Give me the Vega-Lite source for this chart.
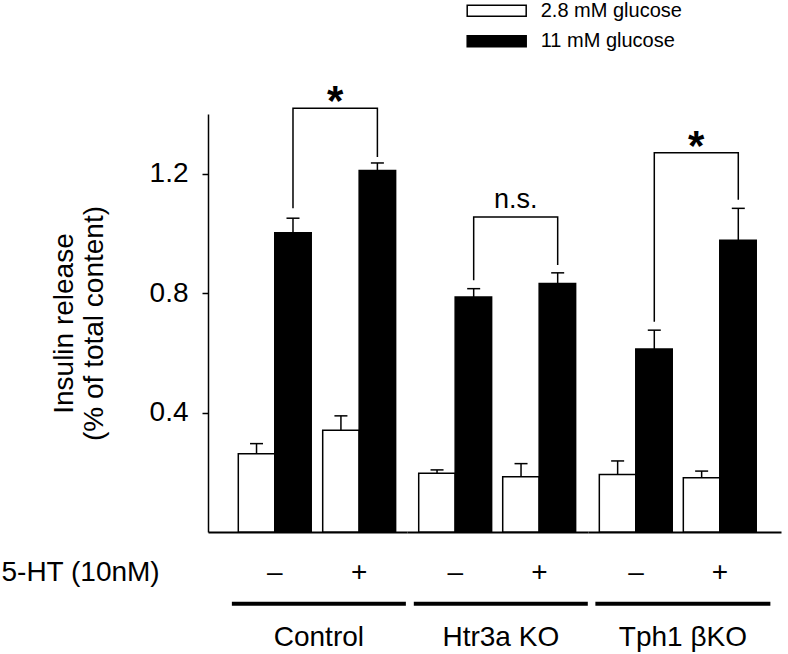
{
"$schema": "https://vega.github.io/schema/vega-lite/v6.json",
"padding": {"left": 1, "top": 0, "right": 5, "bottom": 2},
"bounds": "flush",
"spacing": 0,
"config": {"font": "Liberation Sans", "view": {"stroke": null}, "axis": {"labelColor": "black", "titleColor": "black", "labelFont": "Liberation Sans", "titleFont": "Liberation Sans", "grid": false}, "text": {"font": "Liberation Sans", "color": "black"}, "legend": {"labelFont": "Liberation Sans", "labelColor": "black"}},
"datasets": {
"bars": [
{"grp": "Control", "cond": "–", "glucose": "2.8 mM glucose", "value": 0.262, "upper": 0.296},
{"grp": "Control", "cond": "–", "glucose": "11 mM glucose", "value": 1.002, "upper": 1.051},
{"grp": "Control", "cond": "+", "glucose": "2.8 mM glucose", "value": 0.341, "upper": 0.389},
{"grp": "Control", "cond": "+", "glucose": "11 mM glucose", "value": 1.211, "upper": 1.236},
{"grp": "Htr3a KO", "cond": "–", "glucose": "2.8 mM glucose", "value": 0.197, "upper": 0.208},
{"grp": "Htr3a KO", "cond": "–", "glucose": "11 mM glucose", "value": 0.787, "upper": 0.815},
{"grp": "Htr3a KO", "cond": "+", "glucose": "2.8 mM glucose", "value": 0.185, "upper": 0.229},
{"grp": "Htr3a KO", "cond": "+", "glucose": "11 mM glucose", "value": 0.832, "upper": 0.868},
{"grp": "Tph1 βKO", "cond": "–", "glucose": "2.8 mM glucose", "value": 0.193, "upper": 0.238},
{"grp": "Tph1 βKO", "cond": "–", "glucose": "11 mM glucose", "value": 0.613, "upper": 0.676},
{"grp": "Tph1 βKO", "cond": "+", "glucose": "2.8 mM glucose", "value": 0.182, "upper": 0.204},
{"grp": "Tph1 βKO", "cond": "+", "glucose": "11 mM glucose", "value": 0.977, "upper": 1.084}
],
"brackets": [
{"grp": "Control", "cond": "–", "y": 1.084, "o": 1},
{"grp": "Control", "cond": "–", "y": 1.419, "o": 2},
{"grp": "Control", "cond": "+", "y": 1.419, "o": 3},
{"grp": "Control", "cond": "+", "y": 1.256, "o": 4},
{"grp": "Htr3a KO", "cond": "–", "y": 0.843, "o": 1},
{"grp": "Htr3a KO", "cond": "–", "y": 1.055, "o": 2},
{"grp": "Htr3a KO", "cond": "+", "y": 1.055, "o": 3},
{"grp": "Htr3a KO", "cond": "+", "y": 0.894, "o": 4},
{"grp": "Tph1 βKO", "cond": "–", "y": 0.704, "o": 1},
{"grp": "Tph1 βKO", "cond": "–", "y": 1.270, "o": 2},
{"grp": "Tph1 βKO", "cond": "+", "y": 1.270, "o": 3},
{"grp": "Tph1 βKO", "cond": "+", "y": 1.113, "o": 4}
],
"notes": [
{"grp": "Control", "cond": "–", "label": "*", "y": 1.395},
{"grp": "Htr3a KO", "cond": "–", "label": "n.s.", "y": 1.084},
{"grp": "Tph1 βKO", "cond": "–", "label": "*", "y": 1.247}
],
"groups": [
{"grp": "Control", "cond": "–", "label": "Control"},
{"grp": "Htr3a KO", "cond": "–", "label": "Htr3a KO"},
{"grp": "Tph1 βKO", "cond": "–", "label": "Tph1 βKO"}
]
},
"hconcat": [
{
"width": 199, "height": 418,
"layer": [
{"data": {"name": "bars"}, "transform": [{"filter": "datum.grp === 'Control'"}],
 "mark": {"type": "bar", "stroke": "black", "strokeWidth": 1.5},
 "encoding": {
  "x": {"field": "cond", "type": "nominal", "scale": {"domain": ["–", "+"], "paddingInner": 0.136, "paddingOuter": 0.2469, "align": 0.727},
        "axis": {"title": "5-HT (10nM)", "titleX": -207, "titleY": 40.7, "titleAlign": "left", "titleBaseline": "middle", "titleFontSize": 28, "titleFontWeight": "normal", "ticks": false, "labelFontSize": 28, "labelPadding": 26, "labelAngle": 0, "domainColor": "black", "domainWidth": 2}},
  "xOffset": {"field": "glucose", "type": "nominal", "scale": {"domain": ["2.8 mM glucose", "11 mM glucose"], "paddingInner": 0, "paddingOuter": 0}},
  "y": {"field": "value", "type": "quantitative", "scale": {"domain": [0, 1.4], "nice": false},
        "axis": {"values": [0.4, 0.8, 1.2], "format": ".1f", "tickSize": 6, "tickWidth": 1.5, "tickColor": "black", "domainColor": "black", "domainWidth": 1.5, "labelFontSize": 28, "labelPadding": 14, "title": ["Insulin release", "(% of total content)"], "titleFontSize": 28, "titleFontWeight": "normal", "titlePadding": 41, "titleLineHeight": 30}},
  "color": {"field": "glucose", "type": "nominal", "scale": {"domain": ["2.8 mM glucose", "11 mM glucose"], "range": ["white", "black"]},
        "legend": {"orient": "none", "legendX": 278.7, "legendY": -113.3, "title": null, "direction": "vertical", "symbolType": "M-3.47,-0.647H3.47V0.647H-3.47Z", "symbolSize": 289, "symbolStrokeColor": "black", "symbolStrokeWidth": 1.5, "labelFontSize": 20, "labelOffset": 34, "rowPadding": 10.5, "padding": 0}}
 }},
{"data": {"name": "bars"}, "transform": [{"filter": "datum.grp === 'Control' && datum.glucose === '2.8 mM glucose'"}],
 "mark": {"type": "rule", "color": "black", "strokeWidth": 1.5},
 "encoding": {"x": {"field": "cond", "type": "nominal", "bandPosition": 0.25}, "y": {"field": "value", "type": "quantitative"}, "y2": {"field": "upper"}}},
{"data": {"name": "bars"}, "transform": [{"filter": "datum.grp === 'Control' && datum.glucose === '2.8 mM glucose'"}],
 "mark": {"type": "point", "shape": "M-1,0H1", "size": 169, "strokeWidth": 1.5, "color": "black", "filled": false, "opacity": 1},
 "encoding": {"x": {"field": "cond", "type": "nominal", "bandPosition": 0.25}, "y": {"field": "upper", "type": "quantitative"}}},
{"data": {"name": "bars"}, "transform": [{"filter": "datum.grp === 'Control' && datum.glucose === '11 mM glucose'"}],
 "mark": {"type": "rule", "color": "black", "strokeWidth": 1.5},
 "encoding": {"x": {"field": "cond", "type": "nominal", "bandPosition": 0.75}, "y": {"field": "value", "type": "quantitative"}, "y2": {"field": "upper"}}},
{"data": {"name": "bars"}, "transform": [{"filter": "datum.grp === 'Control' && datum.glucose === '11 mM glucose'"}],
 "mark": {"type": "point", "shape": "M-1,0H1", "size": 169, "strokeWidth": 1.5, "color": "black", "filled": false, "opacity": 1},
 "encoding": {"x": {"field": "cond", "type": "nominal", "bandPosition": 0.75}, "y": {"field": "upper", "type": "quantitative"}}},
{"data": {"name": "brackets"}, "transform": [{"filter": "datum.grp === 'Control'"}],
 "mark": {"type": "line", "color": "black", "strokeWidth": 1.5},
 "encoding": {"x": {"field": "cond", "type": "nominal", "bandPosition": 0.75}, "y": {"field": "y", "type": "quantitative"}, "order": {"field": "o"}}},
{"data": {"name": "notes"}, "transform": [{"filter": "datum.grp === 'Control'"}],
 "mark": {"type": "text", "fontSize": 42, "fontWeight": "bold", "align": "center", "baseline": "alphabetic"},
 "encoding": {"x": {"field": "cond", "type": "nominal", "bandPosition": 1.329}, "y": {"field": "y", "type": "quantitative"}, "text": {"field": "label"}}},
{"data": {"name": "groups"}, "transform": [{"filter": "datum.grp === 'Control'"}],
 "mark": {"type": "point", "shape": "M-1,0H1", "size": 30276, "strokeWidth": 4, "color": "black", "filled": false, "opacity": 1},
 "encoding": {"x": {"field": "cond", "type": "nominal", "bandPosition": 1.105}, "y": {"datum": -0.24, "type": "quantitative"}}},
{"data": {"name": "groups"}, "transform": [{"filter": "datum.grp === 'Control'"}],
 "mark": {"type": "text", "fontSize": 28, "align": "center", "baseline": "middle"},
 "encoding": {"x": {"field": "cond", "type": "nominal", "bandPosition": 1.105}, "y": {"datum": -0.355, "type": "quantitative"}, "text": {"field": "label"}}}
]
},
{
"width": 181, "height": 418,
"layer": [
{"data": {"name": "bars"}, "transform": [{"filter": "datum.grp === 'Htr3a KO'"}],
 "mark": {"type": "bar", "stroke": "black", "strokeWidth": 1.5},
 "encoding": {
  "x": {"field": "cond", "type": "nominal", "scale": {"domain": ["–", "+"], "paddingInner": 0.1274, "paddingOuter": 0.1411, "align": 0.494},
        "axis": {"title": null, "ticks": false, "labelFontSize": 28, "labelPadding": 26, "labelAngle": 0, "domainColor": "black", "domainWidth": 2}},
  "xOffset": {"field": "glucose", "type": "nominal", "scale": {"domain": ["2.8 mM glucose", "11 mM glucose"], "paddingInner": 0, "paddingOuter": 0}},
  "y": {"field": "value", "type": "quantitative", "scale": {"domain": [0, 1.4], "nice": false}, "axis": null},
  "color": {"field": "glucose", "type": "nominal", "scale": {"domain": ["2.8 mM glucose", "11 mM glucose"], "range": ["white", "black"]}, "legend": null}
 }},
{"data": {"name": "bars"}, "transform": [{"filter": "datum.grp === 'Htr3a KO' && datum.glucose === '2.8 mM glucose'"}],
 "mark": {"type": "rule", "color": "black", "strokeWidth": 1.5},
 "encoding": {"x": {"field": "cond", "type": "nominal", "bandPosition": 0.25}, "y": {"field": "value", "type": "quantitative", "axis": null}, "y2": {"field": "upper"}}},
{"data": {"name": "bars"}, "transform": [{"filter": "datum.grp === 'Htr3a KO' && datum.glucose === '2.8 mM glucose'"}],
 "mark": {"type": "point", "shape": "M-1,0H1", "size": 169, "strokeWidth": 1.5, "color": "black", "filled": false, "opacity": 1},
 "encoding": {"x": {"field": "cond", "type": "nominal", "bandPosition": 0.25}, "y": {"field": "upper", "type": "quantitative", "axis": null}}},
{"data": {"name": "bars"}, "transform": [{"filter": "datum.grp === 'Htr3a KO' && datum.glucose === '11 mM glucose'"}],
 "mark": {"type": "rule", "color": "black", "strokeWidth": 1.5},
 "encoding": {"x": {"field": "cond", "type": "nominal", "bandPosition": 0.75}, "y": {"field": "value", "type": "quantitative", "axis": null}, "y2": {"field": "upper"}}},
{"data": {"name": "bars"}, "transform": [{"filter": "datum.grp === 'Htr3a KO' && datum.glucose === '11 mM glucose'"}],
 "mark": {"type": "point", "shape": "M-1,0H1", "size": 169, "strokeWidth": 1.5, "color": "black", "filled": false, "opacity": 1},
 "encoding": {"x": {"field": "cond", "type": "nominal", "bandPosition": 0.75}, "y": {"field": "upper", "type": "quantitative", "axis": null}}},
{"data": {"name": "brackets"}, "transform": [{"filter": "datum.grp === 'Htr3a KO'"}],
 "mark": {"type": "line", "color": "black", "strokeWidth": 1.5},
 "encoding": {"x": {"field": "cond", "type": "nominal", "bandPosition": 0.75}, "y": {"field": "y", "type": "quantitative", "axis": null}, "order": {"field": "o"}}},
{"data": {"name": "notes"}, "transform": [{"filter": "datum.grp === 'Htr3a KO'"}],
 "mark": {"type": "text", "fontSize": 27, "align": "center", "baseline": "alphabetic"},
 "encoding": {"x": {"field": "cond", "type": "nominal", "bandPosition": 1.323}, "y": {"field": "y", "type": "quantitative", "axis": null}, "text": {"field": "label"}}},
{"data": {"name": "groups"}, "transform": [{"filter": "datum.grp === 'Htr3a KO'"}],
 "mark": {"type": "point", "shape": "M-1,0H1", "size": 30276, "strokeWidth": 4, "color": "black", "filled": false, "opacity": 1},
 "encoding": {"x": {"field": "cond", "type": "nominal", "bandPosition": 1.12}, "y": {"datum": -0.24, "type": "quantitative", "axis": null}}},
{"data": {"name": "groups"}, "transform": [{"filter": "datum.grp === 'Htr3a KO'"}],
 "mark": {"type": "text", "fontSize": 28, "align": "center", "baseline": "middle"},
 "encoding": {"x": {"field": "cond", "type": "nominal", "bandPosition": 1.12}, "y": {"datum": -0.355, "type": "quantitative", "axis": null}, "text": {"field": "label"}}}
]
},
{
"width": 193, "height": 418,
"layer": [
{"data": {"name": "bars"}, "transform": [{"filter": "datum.grp === 'Tph1 βKO'"}],
 "mark": {"type": "bar", "stroke": "black", "strokeWidth": 1.5},
 "encoding": {
  "x": {"field": "cond", "type": "nominal", "scale": {"domain": ["–", "+"], "paddingInner": 0.1274, "paddingOuter": 0.2125, "align": 0.317},
        "axis": {"title": null, "ticks": false, "labelFontSize": 28, "labelPadding": 26, "labelAngle": 0, "domainColor": "black", "domainWidth": 2}},
  "xOffset": {"field": "glucose", "type": "nominal", "scale": {"domain": ["2.8 mM glucose", "11 mM glucose"], "paddingInner": 0, "paddingOuter": 0}},
  "y": {"field": "value", "type": "quantitative", "scale": {"domain": [0, 1.4], "nice": false}, "axis": null},
  "color": {"field": "glucose", "type": "nominal", "scale": {"domain": ["2.8 mM glucose", "11 mM glucose"], "range": ["white", "black"]}, "legend": null}
 }},
{"data": {"name": "bars"}, "transform": [{"filter": "datum.grp === 'Tph1 βKO' && datum.glucose === '2.8 mM glucose'"}],
 "mark": {"type": "rule", "color": "black", "strokeWidth": 1.5},
 "encoding": {"x": {"field": "cond", "type": "nominal", "bandPosition": 0.25}, "y": {"field": "value", "type": "quantitative", "axis": null}, "y2": {"field": "upper"}}},
{"data": {"name": "bars"}, "transform": [{"filter": "datum.grp === 'Tph1 βKO' && datum.glucose === '2.8 mM glucose'"}],
 "mark": {"type": "point", "shape": "M-1,0H1", "size": 169, "strokeWidth": 1.5, "color": "black", "filled": false, "opacity": 1},
 "encoding": {"x": {"field": "cond", "type": "nominal", "bandPosition": 0.25}, "y": {"field": "upper", "type": "quantitative", "axis": null}}},
{"data": {"name": "bars"}, "transform": [{"filter": "datum.grp === 'Tph1 βKO' && datum.glucose === '11 mM glucose'"}],
 "mark": {"type": "rule", "color": "black", "strokeWidth": 1.5},
 "encoding": {"x": {"field": "cond", "type": "nominal", "bandPosition": 0.75}, "y": {"field": "value", "type": "quantitative", "axis": null}, "y2": {"field": "upper"}}},
{"data": {"name": "bars"}, "transform": [{"filter": "datum.grp === 'Tph1 βKO' && datum.glucose === '11 mM glucose'"}],
 "mark": {"type": "point", "shape": "M-1,0H1", "size": 169, "strokeWidth": 1.5, "color": "black", "filled": false, "opacity": 1},
 "encoding": {"x": {"field": "cond", "type": "nominal", "bandPosition": 0.75}, "y": {"field": "upper", "type": "quantitative", "axis": null}}},
{"data": {"name": "brackets"}, "transform": [{"filter": "datum.grp === 'Tph1 βKO'"}],
 "mark": {"type": "line", "color": "black", "strokeWidth": 1.5},
 "encoding": {"x": {"field": "cond", "type": "nominal", "bandPosition": 0.75}, "y": {"field": "y", "type": "quantitative", "axis": null}, "order": {"field": "o"}}},
{"data": {"name": "notes"}, "transform": [{"filter": "datum.grp === 'Tph1 βKO'"}],
 "mark": {"type": "text", "fontSize": 42, "fontWeight": "bold", "align": "center", "baseline": "alphabetic"},
 "encoding": {"x": {"field": "cond", "type": "nominal", "bandPosition": 1.323}, "y": {"field": "y", "type": "quantitative", "axis": null}, "text": {"field": "label"}}},
{"data": {"name": "groups"}, "transform": [{"filter": "datum.grp === 'Tph1 βKO'"}],
 "mark": {"type": "point", "shape": "M-1,0H1", "size": 30625, "strokeWidth": 4, "color": "black", "filled": false, "opacity": 1},
 "encoding": {"x": {"field": "cond", "type": "nominal", "bandPosition": 1.14}, "y": {"datum": -0.24, "type": "quantitative", "axis": null}}},
{"data": {"name": "groups"}, "transform": [{"filter": "datum.grp === 'Tph1 βKO'"}],
 "mark": {"type": "text", "fontSize": 28, "align": "center", "baseline": "middle"},
 "encoding": {"x": {"field": "cond", "type": "nominal", "bandPosition": 1.14}, "y": {"datum": -0.355, "type": "quantitative", "axis": null}, "text": {"field": "label"}}}
]
}
]
}
